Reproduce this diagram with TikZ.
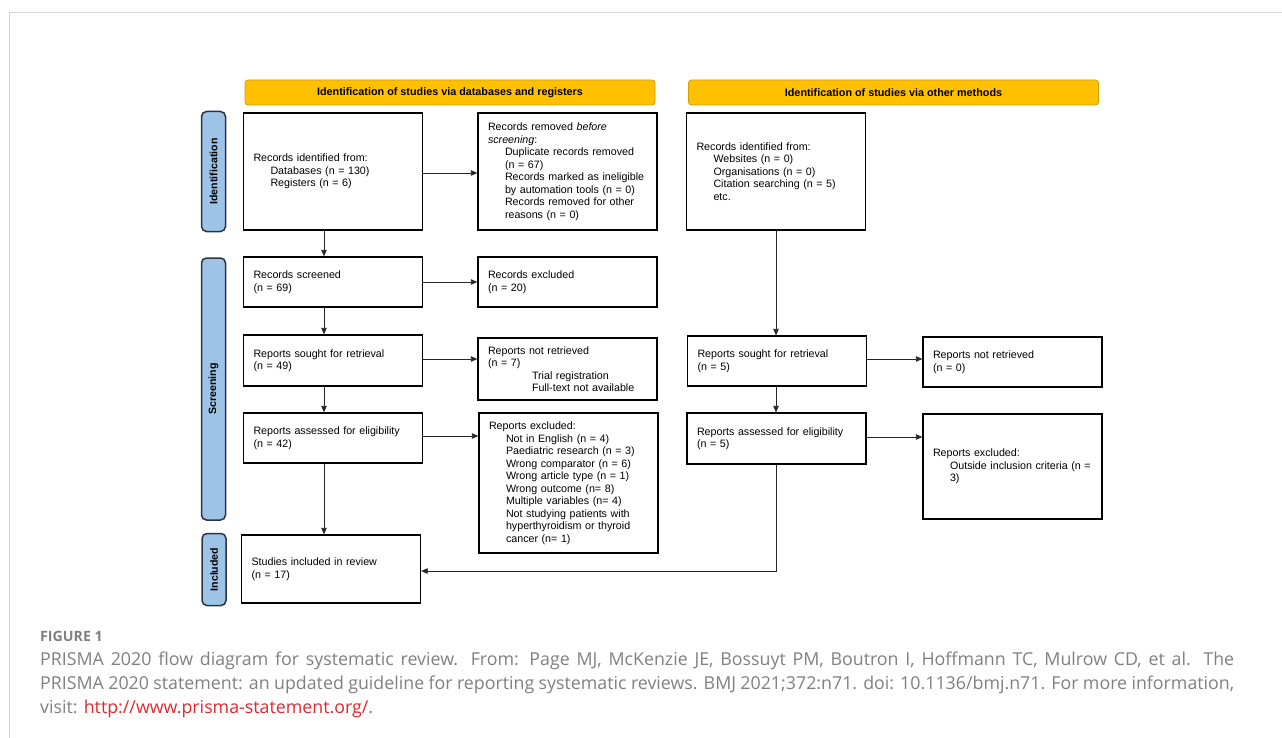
\documentclass[tikz,border=0pt]{standalone}
\usepackage{fontspec}
\usepackage{xcolor}
\usetikzlibrary{arrows.meta}
\usetikzlibrary{calc}

\newfontfamily\diagfont{Liberation Sans}
\newfontfamily\capfont{Open Sans}

\definecolor{headyellow}{HTML}{FFC000}
\definecolor{headborder}{HTML}{D29E00}
\definecolor{tabblue}{HTML}{9DC3E6}
\definecolor{tabborder}{HTML}{2B3340}
\definecolor{framegrey}{HTML}{D4D4D4}
\definecolor{capgrey}{HTML}{808080}
\definecolor{linkred}{HTML}{E0282E}

\newcommand{\subind}{\hspace*{17pt}}
\newcommand{\bigind}{\hspace*{44pt}}
\newcommand{\capline}[1]{\makebox[1194pt][s]{#1}}

\tikzset{
  box/.style={draw=black, line width=1.3pt, fill=white, align=left,
    inner xsep=10pt, inner ysep=0pt, text width=159pt, minimum height=#1,
    font=\diagfont\fontsize{10.7}{12.5}\selectfont},
  head/.style={draw=headborder, fill=headyellow, rounded corners=3pt,
    line width=0.8pt, minimum width=410pt, minimum height=25pt,
    font=\diagfont\bfseries\fontsize{10.8}{12}\selectfont},
  tab/.style={draw=tabborder, fill=tabblue, rounded corners=5pt,
    line width=1.5pt, rotate=90, minimum height=24pt, minimum width=#1,
    inner sep=0pt, font=\diagfont\bfseries\fontsize{10.6}{12}\selectfont},
  flow/.style={-{Triangle[length=6.5pt,width=5.5pt]}, line width=0.8pt, draw=black!85},
  caption/.style={anchor=base west, inner sep=0pt, text=capgrey,
    font=\capfont\fontsize{17.8}{20}\selectfont},
}

\begin{document}
\begin{tikzpicture}[x=1pt, y=-1pt]

  \useasboundingbox (0,0) rectangle (1282,738);

  % Page frame
  \draw[framegrey, line width=1.2pt] (9.5,738) |- (1282,12.5);

  % Column lines for the connectors
  \coordinate (lcol) at (324,0);
  \coordinate (rcol) at (776,0);
  \coordinate (turn) at (776,571);

  % Headers
  \node[head] (headdb)  at (450,92.5)   {Identification of studies via databases and registers};
  \node[head] (headoth) at (893.5,92.5) {Identification of studies via other methods};

  % Side tabs
  \node[tab=120pt] (tabid)  at (213.5,171.5) {Identification};
  \node[tab=262pt] (tabscr) at (213.5,389)   {Screening};
  \node[tab=72pt]  (tabinc) at (214,569.5)   {Included};

  % Databases and registers
  \node[box=117pt] (idrec) at (333,171.5)
    {Records identified from:\\
     \subind Databases (n = 130)\\
     \subind Registers (n = 6)};
  \node[box=117pt] (idremoved) at (567.5,171.5)
    {Records removed \textit{before}\\
     \textit{screening}:\\
     \subind Duplicate records removed\\
     \subind (n = 67)\\
     \subind Records marked as ineligible\\
     \subind by automation tools (n = 0)\\
     \subind Records removed for other\\
     \subind reasons (n = 0)};
  \node[box=50pt] (screened) at (333,282)
    {Records screened\\(n = 69)};
  \node[box=50pt] (excluded) at (567.5,282)
    {Records excluded\\(n = 20)};
  \node[box=51pt] (sought) at (333,360.5)
    {Reports sought for retrieval\\(n = 49)};
  \node[box=62pt] (notretr) at (567.5,369)
    {Reports not retrieved\\(n = 7)\\
     \bigind Trial registration\\
     \bigind Full-text not available};
  \node[box=50pt] (assessed) at (333,438)
    {Reports assessed for eligibility\\(n = 42)};
  \node[box=140pt] (repexcl) at (568.5,483)
    {Reports excluded:\\
     \subind Not in English (n = 4)\\
     \subind Paediatric research (n = 3)\\
     \subind Wrong comparator (n = 6)\\
     \subind Wrong article type (n = 1)\\
     \subind Wrong outcome (n= 8)\\
     \subind Multiple variables (n= 4)\\
     \subind Not studying patients with\\
     \subind hyperthyroidism or thyroid\\
     \subind cancer (n= 1)};
  \node[box=68pt] (included) at (331,569)
    {Studies included in review\\(n = 17)};

  % Other methods
  \node[box=117pt] (othrec) at (776,171.5)
    {Records identified from:\\
     \subind Websites (n = 0)\\
     \subind Organisations (n = 0)\\
     \subind Citation searching (n = 5)\\
     \subind etc.};
  \node[box=50pt] (othsought) at (777,361)
    {Reports sought for retrieval\\(n = 5)};
  \node[box=50pt] (othnotretr) at (1012.5,362)
    {Reports not retrieved\\(n = 0)};
  \node[box=51pt] (othassessed) at (776.5,438.5)
    {Reports assessed for eligibility\\(n = 5)};
  \node[box=105pt] (othexcl) at (1012.5,466.5)
    {Reports excluded:\\
     \subind Outside inclusion criteria (n =\\
     \subind 3)};

  % Vertical flow, databases
  \draw[flow] (idrec.south -| lcol)    -- (screened.north -| lcol);
  \draw[flow] (screened.south -| lcol) -- (sought.north -| lcol);
  \draw[flow] (sought.south -| lcol)   -- (assessed.north -| lcol);
  \draw[flow] (assessed.south -| lcol) -- (included.north -| lcol);

  % Exclusions, databases
  \draw[flow] ([yshift=-1.5pt]idrec.east) -- ([yshift=-1.5pt]idrec.east -| idremoved.west);
  \draw[flow] (screened.east) -- (screened.east -| excluded.west);
  \draw[flow] ([yshift=1.5pt]sought.east) -- ([yshift=1.5pt]sought.east -| notretr.west);
  \draw[flow] ([yshift=2pt]assessed.east) -- ([yshift=2pt]assessed.east -| repexcl.west);

  % Other methods flow
  \draw[flow] (othrec.south -| rcol)    -- (othsought.north -| rcol);
  \draw[flow] (othsought.south -| rcol) -- (othassessed.north -| rcol);
  \draw[flow] ([yshift=2pt]othsought.east) -- ([yshift=2pt]othsought.east -| othnotretr.west);
  \draw[flow] ([yshift=1.5pt]othassessed.east) -- ([yshift=1.5pt]othassessed.east -| othexcl.west);
  \draw[flow] (othassessed.south -| rcol) -- (turn) -- (turn -| included.east);

  % Caption
  \node[caption, font=\capfont\bfseries\fontsize{14.2}{15}\selectfont] (figlabel) at (40,641) {FIGURE 1};
  \node[caption] (capone) at (40,665)
    {\capline{PRISMA 2020 flow diagram for systematic review. From: Page MJ, McKenzie JE, Bossuyt PM, Boutron I, Hoffmann TC, Mulrow CD, et al. The}};
  \node[caption] (captwo) at (40,689)
    {\capline{PRISMA 2020 statement: an updated guideline for reporting systematic reviews. BMJ 2021;372:n71. doi: 10.1136/bmj.n71. For more information,}};
  \node[caption] (capthree) at (40,713)
    {visit: \textcolor{linkred}{http://www.prisma-statement.org/}.};

\end{tikzpicture}
\end{document}
